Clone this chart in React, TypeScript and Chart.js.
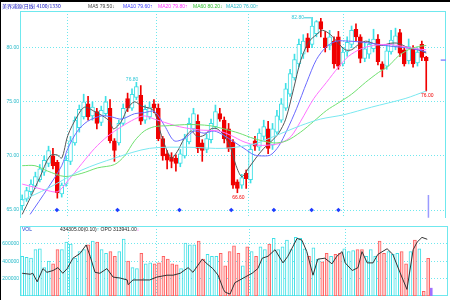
import React, { useEffect, useRef } from 'react';
import { Chart, registerables } from 'chart.js';
Chart.register(...registerables);

// ---- data ----
const openP = [65.4,66.0,66.7,67.2,67.8,68.5,69.3,70.0,69.4,66.5,67.4,69.5,71.2,72.6,73.6,74.8,73.7,74.1,73.1,73.9,74.4,71.4,71.2,73.0,75.3,74.4,75.4,75.6,73.3,73.6,74.8,74.4,71.6,70.2,69.9,69.8,69.3,70.0,71.3,72.5,73.2,71.2,70.6,71.5,72.7,73.9,73.3,72.5,71.3,67.6,67.3,68.4,67.8,71.4,70.8,71.8,72.5,71.0,72.2,73.3,74.4,75.7,77.2,78.5,79.4,80.9,80.3,81.3,82.4,80.9,80.2,80.6,81.0,78.5,79.6,80.3,81.7,81.0,79.0,79.4,79.9,80.8,78.5,78.3,79.6,80.1,81.4,79.8,78.8,79.9,78.6,80.3,79.1];
const highP = [66.4,67.1,67.8,68.5,69.2,70.0,70.9,70.7,69.6,67.5,70.0,71.8,73.6,74.7,75.7,75.5,75.0,74.4,74.6,75.5,75.2,71.6,73.3,74.8,75.8,76.2,76.8,76.5,74.7,75.0,75.2,74.8,71.8,70.5,70.3,70.1,70.6,72.0,73.5,74.4,73.8,71.5,72.0,73.4,74.7,74.4,73.6,73.0,71.5,67.8,68.3,68.7,71.0,71.8,72.5,73.3,73.2,73.0,74.2,75.3,76.7,78.0,79.4,80.8,81.2,81.3,82.8,82.5,82.7,81.5,81.6,81.0,81.5,80.0,81.0,82.0,82.2,81.2,80.4,80.8,81.7,81.2,78.7,80.2,81.6,81.8,81.7,80.0,80.8,80.2,80.0,80.6,79.2];
const lowP = [65.0,65.8,66.4,67.0,67.6,68.2,69.0,68.8,66.1,66.2,67.2,69.2,71.0,72.2,73.4,73.3,73.3,72.5,72.8,73.7,71.2,69.5,71.0,72.8,74.1,74.2,75.2,72.9,73.0,73.4,74.0,71.4,69.6,68.8,68.9,68.6,69.0,69.8,71.1,72.3,70.3,69.5,70.3,71.2,72.5,73.2,71.2,70.4,67.0,66.6,67.0,67.0,67.5,70.5,70.5,71.5,70.2,70.6,72.0,73.1,74.2,75.5,77.0,78.2,79.0,79.6,80.0,81.0,81.0,79.6,79.8,78.1,78.0,78.3,79.2,80.0,80.6,78.6,78.7,79.0,79.6,78.4,77.3,78.0,79.4,79.8,79.2,78.3,78.5,78.2,78.3,78.8,76.0];
const closeP = [66.0,66.8,67.4,68.1,68.8,69.6,70.5,69.1,66.6,67.3,69.6,71.4,73.3,74.3,75.0,73.6,74.5,73.0,74.2,75.0,71.4,70.5,73.0,74.4,74.4,75.7,76.4,73.2,74.3,74.5,74.4,71.6,70.0,69.6,69.5,69.3,70.2,71.6,73.0,73.9,70.7,70.5,71.6,73.0,74.1,73.4,71.6,70.7,67.3,67.0,68.0,67.9,70.6,70.9,72.1,72.7,70.7,72.5,73.7,74.8,76.2,77.6,78.9,80.3,80.6,80.0,82.0,82.4,81.7,80.0,81.0,78.5,78.3,79.6,80.5,81.6,81.0,79.0,79.9,80.3,80.8,78.7,78.0,79.7,80.7,81.1,79.5,78.5,80.1,78.5,79.6,79.1,78.8];
const volumes = [458000,447000,436000,535000,545000,327000,404000,371000,535000,535000,622000,600000,436000,513000,535000,589000,633000,622000,535000,491000,513000,458000,513000,655000,404000,327000,316000,491000,371000,382000,371000,382000,458000,425000,371000,360000,316000,611000,589000,589000,633000,425000,480000,458000,458000,491000,349000,513000,578000,491000,349000,567000,513000,458000,567000,535000,600000,665000,535000,567000,644000,535000,676000,665000,545000,458000,556000,425000,393000,491000,458000,480000,491000,545000,513000,524000,535000,535000,458000,535000,458000,633000,491000,513000,480000,491000,513000,371000,513000,644000,545000,55000,434305];

const ma5: [number, number][] = [[0,64.6],[1.8,66.1],[4,68.0],[6.3,70.0],[7.9,70.1],[9,69.8],[10.4,71.9],[12.6,73.7],[14.2,74.5],[16.5,74.1],[18.3,73.7],[19.9,73.2],[20.8,72.5],[22.6,73.2],[24,74.4],[25.6,75.0],[27.2,74.6],[29,74.4],[30.1,74.1],[31.7,71.9],[33.9,69.8],[35.3,70.4],[36.9,71.6],[38.5,72.3],[39.8,71.8],[41.4,71.9],[43,72.5],[44.4,72.5],[45.9,71.9],[47.5,70.7],[48.7,69.1],[50,68.1],[51.6,68.9],[53.2,69.8],[55,70.7],[56.6,71.3],[58.4,72.1],[60,73.4],[61.8,76.2],[63.4,78.8],[65.2,80.5],[67,81.2],[68.4,81.6],[70.2,81.2],[72,80.4],[73.6,79.8],[75,79.8],[76.6,80.3],[78.2,80.6],[79.9,80.4],[81.8,80.2],[83.8,80.4],[85.6,80.4],[87.9,80.0],[90.2,79.8],[92,79.5]];
const ma10: [number, number][] = [[1.8,64.6],[5.8,67.0],[9,69.1],[10.4,70.7],[12.6,72.3],[14.9,73.2],[18.1,73.7],[20.4,73.6],[22.6,73.4],[25.6,73.9],[27.8,74.0],[30.1,74.1],[32.4,72.8],[34.6,71.4],[36.9,71.6],[39.2,72.3],[41.4,72.1],[43.7,72.3],[45.9,71.9],[48.2,71.3],[50.5,70.7],[52.8,70.1],[55,70.0],[56.6,70.1],[58.4,70.9],[60.2,72.3],[62.5,74.4],[64.8,76.8],[67,78.9],[69.3,80.1],[71.6,80.6],[74.3,80.6],[77.7,80.5],[81.1,80.3],[84.5,80.1],[87.2,80.0],[90.2,79.8],[92,79.6]];
const ma20: [number, number][] = [[0,67.4],[2.9,67.1],[5.8,66.8],[8.1,66.7],[10.4,67.7],[13.6,69.3],[16.5,70.7],[19.4,71.8],[22.6,72.7],[25.6,73.4],[27.8,73.7],[30.1,73.4],[32.4,73.1],[35.8,72.7],[40.3,72.4],[44.8,72.3],[47.5,71.9],[50.5,71.3],[53.4,71.0],[56.2,71.0],[58.9,71.2],[61.2,71.8],[63.4,73.2],[66.4,75.3],[69.3,76.8],[72,78.2],[74.3,79.2],[77.2,79.9],[80,80.2],[83.4,80.3],[86.8,80.1],[89.7,79.9],[92,79.8]];
const ma60: [number, number][] = [[0,69.1],[2.9,69.1],[5.8,68.6],[9.7,68.1],[13.6,68.4],[17.2,68.9],[21,69.2],[23.3,70.0],[25.6,71.4],[27.8,72.3],[30.1,72.7],[33.5,72.8],[38,72.9],[42.6,72.8],[45.9,72.5],[49.4,72.1],[52.8,71.6],[57.3,71.2],[60.2,71.4],[63.4,72.2],[66.4,73.2],[69.3,74.2],[72,74.9],[75,75.7],[78.2,76.8],[81.1,77.7],[83.4,78.3],[85.6,79.2],[87.9,79.8],[90.2,80.1],[92,80.2]];
const ma120: [number, number][] = [[0,65.9],[5.8,67.0],[13.6,68.7],[21,69.8],[29,70.7],[38,70.8],[45.9,70.7],[52.8,71.1],[57.3,71.8],[63.4,72.8],[67.9,73.4],[73.2,73.8],[79.5,74.5],[87.2,75.3],[92,76.0]];
const opoLine: [number, number][] = [[0,262000],[1.8,251000],[2.4,262000],[3.4,164000],[4.7,316000],[5.6,273000],[7,294000],[8.1,327000],[9.2,262000],[10.2,316000],[11.5,436000],[13.1,490000],[14.5,589000],[15.4,458000],[16.5,273000],[17.6,262000],[19.2,316000],[20.6,218000],[22.2,207000],[23.8,185000],[24,131000],[25.1,185000],[28.9,185000],[30.5,218000],[32.8,240000],[34.2,240000],[35.8,262000],[37.6,327000],[38.7,273000],[40.8,425000],[41.9,371000],[43.2,316000],[44.4,240000],[45.6,76000],[46,44000],[47.1,22000],[48.2,153000],[50.5,218000],[52.1,262000],[53.4,316000],[54.4,436000],[55.7,458000],[57.3,534000],[59.1,382000],[60.2,458000],[62.3,665000],[63.4,643000],[64.5,512000],[65.9,240000],[67,425000],[68.6,436000],[70.2,371000],[71.3,458000],[72.5,512000],[73.2,382000],[74.8,294000],[76.1,327000],[77,512000],[78.2,382000],[79.5,382000],[80.6,480000],[82.7,545000],[84,480000],[85.6,273000],[87.2,76000],[88.6,534000],[89.5,621000],[90.6,676000],[91.8,654000]];
const signalIdx = [7.9, 21.7, 35.8, 47.6, 57.3, 65.9, 72.0];
const signalLevel = 65.0;
const priceTicks = [65, 70, 75, 80];
const volTicks = [200000, 400000, 600000];
const dateBreaks = [10.4, 30.5, 51.6, 73.2];
const todayVolMark = { x: 92.7, v: 90000 };
const todayPriceMark = { x: 92.5, from: 66.4, to: 64.3 };
const lastPriceMark = { from: 95.3, to: 96.5, p: 78.85 };
const priceLabels = [
  { i: 26, p: 76.8, text: '76.80', kind: 'hiR' },
  { i: 66, p: 82.8, text: '82.80', kind: 'hiL' },
  { i: 49, p: 66.6, text: '66.60', kind: 'lo' },
  { i: 92, p: 76.0, text: '76.00', kind: 'lo' },
];
const maLegend = [
  { text: 'MA5 79.50↓', color: '#444' },
  { text: 'MA10 79.60↑', color: '#3a3aff' },
  { text: 'MA20 79.80↑', color: '#ff30ff' },
  { text: 'MA60 80.20↓', color: '#30c030' },
  { text: 'MA120 76.00↑', color: '#20b8c8' },
];

// ---- style ----
const CYAN = '#3fe0e6';
const RED = '#f00000';
const GRID = '#6fe8ee';
const X_MIN = -0.5, X_MAX = 96.5;
const FONT = '"Liberation Sans", Arial, sans-serif';

const idx = openP.map((_, i) => i);
const isUp = (i: number) => closeP[i] >= openP[i];

const framePlugin = (sides: { top?: boolean; bottom?: boolean }) => ({
  id: 'frame',
  beforeDatasetsDraw(chart: any) {
    const { ctx, chartArea: a } = chart;
    ctx.save();
    ctx.strokeStyle = GRID;
    ctx.lineWidth = 1;
    ctx.beginPath();
    ctx.moveTo(a.left + 0.5, a.bottom);
    ctx.lineTo(a.left + 0.5, a.top);
    ctx.moveTo(a.right - 0.5, a.bottom);
    ctx.lineTo(a.right - 0.5, a.top);
    if (sides.top) { ctx.moveTo(a.left, a.top + 0.5); ctx.lineTo(a.right, a.top + 0.5); }
    if (sides.bottom) { ctx.moveTo(a.left, a.bottom - 0.5); ctx.lineTo(a.right, a.bottom - 0.5); }
    ctx.stroke();
    ctx.restore();
  },
});

const labelPlugin = {
  id: 'priceLabels',
  afterDatasetsDraw(chart: any) {
    const { ctx } = chart;
    const xs = chart.scales.x, ys = chart.scales.y;
    ctx.save();
    ctx.font = `5px ${FONT}`;
    priceLabels.forEach((l) => {
      const x = xs.getPixelForValue(l.i);
      const y = ys.getPixelForValue(l.p);
      if (l.kind === 'lo') {
        ctx.fillStyle = RED;
        ctx.textAlign = 'center';
        ctx.textBaseline = 'top';
        ctx.fillText(l.text, x + 1, y + 2);
      } else if (l.kind === 'hiL') {
        ctx.fillStyle = '#30c8d8';
        ctx.strokeStyle = '#30c8d8';
        ctx.textAlign = 'right';
        ctx.textBaseline = 'middle';
        ctx.fillText(l.text, x - 8, y);
        ctx.beginPath();
        ctx.moveTo(x - 8, y + 0.5);
        ctx.lineTo(x - 1, y + 0.5);
        ctx.stroke();
      } else {
        ctx.fillStyle = '#30c8d8';
        ctx.textAlign = 'right';
        ctx.textBaseline = 'bottom';
        ctx.fillText(l.text, x + 2, y);
      }
    });
    ctx.restore();
  },
};

const xScale = {
  type: 'linear' as const,
  min: X_MIN,
  max: X_MAX,
  offset: false,
  afterBuildTicks: (s: any) => { s.ticks = dateBreaks.map((v) => ({ value: v })); },
  afterFit: (s: any) => { s.height = 0; },
  ticks: { display: false },
  grid: { color: GRID, drawTicks: false, lineWidth: 1, offset: false },
  border: { display: false, dash: [1, 2] },
};

const pts = (arr: [number, number][]) => arr.map(([x, y]) => ({ x, y }));
const maLine = (arr: [number, number][], color: string) => ({
  type: 'line' as const,
  data: pts(arr),
  borderColor: color,
  borderWidth: 1,
  pointRadius: 0,
  tension: 0.3,
  order: 1,
});

export default function App() {
  const mainRef = useRef<HTMLCanvasElement>(null);
  const volRef = useRef<HTMLCanvasElement>(null);

  useEffect(() => {
    const main = new Chart(mainRef.current as HTMLCanvasElement, {
      type: 'bar',
      data: {
        datasets: [
          {
            type: 'bar',
            data: idx.map((i) => ({ x: i, y: [lowP[i], highP[i]] })) as any,
            backgroundColor: idx.map((i) => (isUp(i) ? CYAN : RED)),
            borderWidth: 0,
            barThickness: 1,
            grouped: false,
            order: 4,
          },
          {
            type: 'bar',
            data: idx.map((i) => ({ x: i, y: [openP[i], closeP[i]] })) as any,
            backgroundColor: idx.map((i) => (isUp(i) ? '#ffffff' : RED)),
            borderColor: idx.map((i) => (isUp(i) ? CYAN : RED)),
            borderWidth: 1,
            borderSkipped: false,
            barThickness: 4,
            grouped: false,
            order: 3,
          },
          maLine(ma120, '#7ae8f0'),
          maLine(ma60, '#70e070'),
          maLine(ma20, '#ff70ff'),
          maLine(ma10, '#6a6aff'),
          maLine(ma5, '#555555'),
          {
            type: 'line',
            data: signalIdx.map((x) => ({ x, y: signalLevel })),
            showLine: false,
            pointStyle: 'rectRot',
            pointRadius: 2.3,
            pointBackgroundColor: '#1f3cff',
            pointBorderWidth: 0,
            order: 0,
          },
          {
            type: 'line',
            data: [{ x: todayPriceMark.x, y: todayPriceMark.from }, { x: todayPriceMark.x, y: todayPriceMark.to }],
            borderColor: '#9a9aff',
            borderWidth: 1.5,
            pointRadius: 0,
            order: 0,
          },
          {
            type: 'line',
            data: [{ x: lastPriceMark.from, y: lastPriceMark.p }, { x: lastPriceMark.to, y: lastPriceMark.p }],
            borderColor: '#8a8aff',
            borderWidth: 1.5,
            pointRadius: 0,
            order: 0,
          },
        ] as any,
      },
      options: {
        responsive: false,
        animation: false,
        devicePixelRatio: 1,
        events: [],
        layout: { padding: { top: 11, right: 2, bottom: 2, left: 0 } },
        plugins: { legend: { display: false }, tooltip: { enabled: false } },
        scales: {
          x: xScale as any,
          y: {
            min: 64.268,
            max: 83.384,
            afterBuildTicks: (s: any) => { s.ticks = priceTicks.map((v) => ({ value: v })); },
            afterFit: (s: any) => { s.width = 20; },
            ticks: {
              callback: (v: any) => Number(v).toFixed(2),
              color: '#20b8c8',
              font: { size: 5, family: FONT },
              padding: 1,
            },
            grid: { color: GRID, drawTicks: false },
            border: { display: false, dash: [1, 2] },
          } as any,
        },
      },
      plugins: [framePlugin({ top: true }), labelPlugin],
    });

    const vol = new Chart(volRef.current as HTMLCanvasElement, {
      type: 'bar',
      data: {
        datasets: [
          {
            type: 'line',
            data: pts(opoLine),
            borderColor: '#333333',
            borderWidth: 1,
            pointRadius: 0,
            tension: 0,
            order: 0,
          },
          {
            type: 'bar',
            data: idx.map((i) => ({ x: i, y: volumes[i] })),
            backgroundColor: idx.map((i) => (isUp(i) ? '#ffffff' : '#ffd0d0')),
            borderColor: idx.map((i) => (isUp(i) ? CYAN : '#ff6060')),
            borderWidth: 1,
            borderSkipped: false,
            barThickness: 3,
            grouped: false,
            order: 2,
          },
          {
            type: 'bar',
            data: [{ x: todayVolMark.x, y: todayVolMark.v }],
            backgroundColor: '#a070ff',
            borderWidth: 0,
            barThickness: 2,
            grouped: false,
            order: 1,
          },
        ] as any,
      },
      options: {
        responsive: false,
        animation: false,
        devicePixelRatio: 1,
        events: [],
        layout: { padding: { top: 1, right: 2, bottom: 3, left: 0 } },
        plugins: { legend: { display: false }, tooltip: { enabled: false } },
        scales: {
          x: xScale as any,
          y: {
            min: 0,
            max: 807273,
            afterBuildTicks: (s: any) => { s.ticks = volTicks.map((v) => ({ value: v })); },
            afterFit: (s: any) => { s.width = 20; },
            ticks: {
              callback: (v: any) => String(v),
              color: '#20b8c8',
              font: { size: 5, family: FONT },
              padding: 1,
            },
            grid: { color: GRID, drawTicks: false },
            border: { display: false, dash: [1, 2] },
          } as any,
        },
      },
      plugins: [framePlugin({ top: true, bottom: true })],
    });

    return () => { main.destroy(); vol.destroy(); };
  }, []);

  const txt: React.CSSProperties = { position: 'absolute', fontFamily: FONT, fontSize: 5, lineHeight: '6px', whiteSpace: 'nowrap' };
  const maLeft = [88, 123, 158, 193, 226];

  return (
    <div style={{ position: 'absolute', left: 0, top: 0, width: 450, height: 300, background: '#fff', overflow: 'hidden' }}>
      <canvas ref={mainRef} width={450} height={222} style={{ position: 'absolute', left: 0, top: 0, width: 450, height: 222 }} />
      <canvas ref={volRef} width={450} height={78} style={{ position: 'absolute', left: 0, top: 222, width: 450, height: 78 }} />
      <div style={{ position: 'absolute', left: 0, top: 0, width: 450, height: 2, background: '#000' }} />
      <div style={{ position: 'absolute', left: 0, top: 0, width: 1, height: 300, background: '#000' }} />
      <div style={{ ...txt, left: 2, top: 3, color: '#1010c0', fontFamily: '"Noto Sans CJK SC", ' + FONT }}>美界浦源(日线) 4100/1330</div>
      {maLegend.map((m, k) => (
        <div key={m.text} style={{ ...txt, left: maLeft[k], top: 3, color: m.color }}>{m.text}</div>
      ))}
      <div style={{ ...txt, left: 22, top: 226, color: '#2040d0' }}>VOL</div>
      <div style={{ ...txt, left: 60, top: 226, color: '#222' }}>
        434305.00(0.10)<span style={{ color: CYAN }}>↑</span>{'  '}OPO{' '}313941.00<span style={{ color: '#ff30ff' }}>↓</span>
      </div>
    </div>
  );
}
